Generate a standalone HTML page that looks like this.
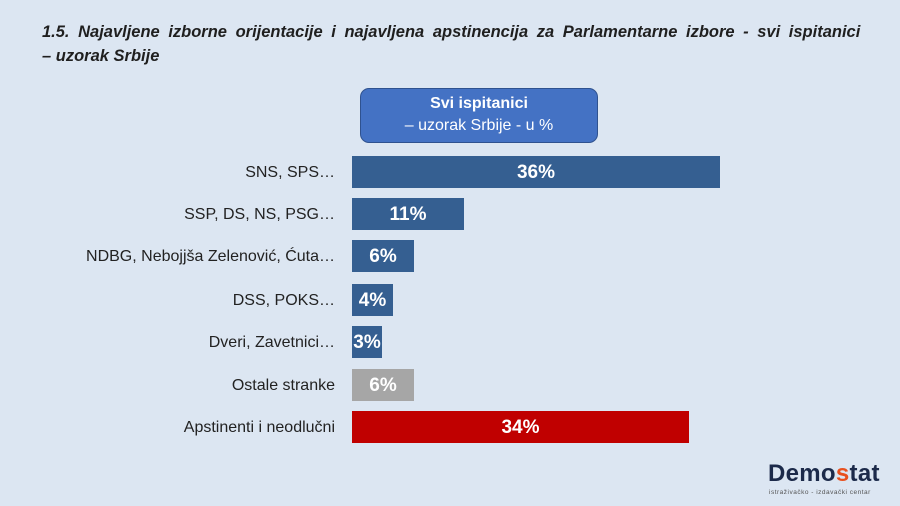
<!DOCTYPE html>
<html><head><meta charset="utf-8"><style>
body{margin:0;width:900px;height:506px;background:#dce6f2;font-family:"Liberation Sans",sans-serif;position:relative;overflow:hidden}
.t{position:absolute;left:42px;top:20px;width:850px;font-size:16.5px;font-weight:bold;font-style:italic;color:#1f1f1f;line-height:24px;white-space:nowrap}
.box{position:absolute;left:360px;top:88px;width:238px;height:55px;background:#4472c4;border:1px solid #2f528f;border-radius:9px;color:#fff;text-align:center;font-size:16px;line-height:22px;box-sizing:border-box;padding-top:4px}
.bar{position:absolute;left:352px;height:32px;color:#fff;font-weight:bold;font-size:19px;line-height:34px;text-align:center;background:#355f91}
.lab{position:absolute;right:565px;height:32px;line-height:34px;font-size:16px;color:#222;white-space:nowrap}
</style></head><body>
<div class="t"><span style="word-spacing:4px">1.5. Najavljene izborne orijentacije i najavljena apstinencija za Parlamentarne izbore - svi ispitanici</span><br>– uzorak Srbije</div>
<div class="box"><b>Svi ispitanici</b><br>– uzorak Srbije - u %</div>
<div class="lab" style="top:156px">SNS, SPS…</div><div class="bar" style="top:156px;width:368px">36%</div>
<div class="lab" style="top:198px">SSP, DS, NS, PSG…</div><div class="bar" style="top:198px;width:112px">11%</div>
<div class="lab" style="top:240px">NDBG, Nebojjša Zelenović, Ćuta…</div><div class="bar" style="top:240px;width:62px">6%</div>
<div class="lab" style="top:284px">DSS, POKS…</div><div class="bar" style="top:284px;width:41px">4%</div>
<div class="lab" style="top:326px">Dveri, Zavetnici…</div><div class="bar" style="top:326px;width:30px">3%</div>
<div class="lab" style="top:369px">Ostale stranke</div><div class="bar" style="top:369px;width:62px;background:#a6a6a6">6%</div>
<div class="lab" style="top:411px">Apstinenti i neodlučni</div><div class="bar" style="top:411px;width:337px;background:#c00000">34%</div>
<div style="position:absolute;left:768px;top:460px;font-size:24px;font-weight:bold;color:#1c2a4a;letter-spacing:0.3px">Demo<span style="color:#e8501e">s</span>tat</div>
<div style="position:absolute;left:769px;top:489px;font-size:6.5px;color:#555;letter-spacing:0.5px">istraživačko - izdavački centar</div>
</body></html>
